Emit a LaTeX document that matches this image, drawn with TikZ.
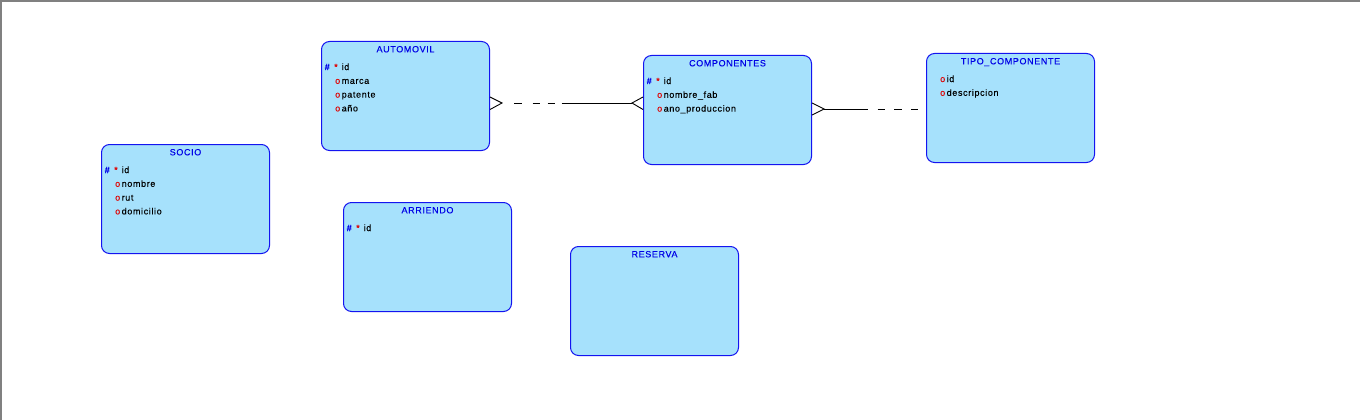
\documentclass[tikz,border=0pt]{standalone}
\usepackage{fontspec}
\setmainfont{Liberation Sans}
\usetikzlibrary{calc}
\definecolor{entfill}{HTML}{A6E1FC}
\definecolor{entdraw}{HTML}{1414F0}
\definecolor{titleblue}{HTML}{0000E6}
\definecolor{attred}{HTML}{E00000}
\definecolor{framegray}{HTML}{808080}
\newcommand\ERfont{\fontsize{9}{10}\selectfont\addfontfeature{LetterSpace=7,FakeBold=0.15}}
\newcommand\ERpk[3]{%
  \node[epk]   at ($(#1.north west)+(3.5,{29+13.8*#2})$) {\#};
  \node[estar] at ($(#1.north west)+(13,{29+13.8*#2})$) {*};
  \node[eattr] at ($(#1.north west)+(20.5,{29+13.8*#2})$) {#3};}
\newcommand\ERatt[3]{%
  \node[eopt]  at ($(#1.north west)+(14,{29+13.8*#2})$) {o};
  \node[eattr] at ($(#1.north west)+(20.5,{29+13.8*#2})$) {#3};}
\newcommand\ERtitle[2]{%
  \node[etitle] at ($(#1.north)+(0,11.3)$) {#2};}
\begin{document}
\begin{tikzpicture}[x=1pt,y=-1pt,
  entity/.style={draw=entdraw, fill=entfill, line width=1pt, rounded corners=8pt,
    anchor=north west, minimum width=168pt, minimum height=109pt, inner sep=0pt},
  etitle/.style={anchor=base, inner sep=0pt, text=titleblue, font=\ERfont},
  eattr/.style={anchor=base west, inner sep=0pt, text=black, font=\ERfont},
  epk/.style={anchor=base west, inner sep=0pt, text=titleblue, font=\ERfont\bfseries},
  estar/.style={anchor=base west, inner sep=0pt, text=attred, font=\ERfont},
  eopt/.style={anchor=base west, inner sep=0pt, text=attred, font=\ERfont},
  rel/.style={draw=black, line width=0.9pt},
  frameline/.style={draw=framegray, line width=1.5pt}]
\useasboundingbox (0,0) rectangle (1360,420);
\fill[white] (0,0) rectangle (1360,420);
\coordinate (fTL) at (1,1);
\coordinate (fTR) at (1360,1);
\coordinate (fBL) at (1,420);
\draw[frameline] (fBL) -- (fTL) -- (fTR);

% entities
\node[entity] (auto) at (321,41) {};
\ERtitle{auto}{AUTOMOVIL}
\ERpk{auto}{0}{id}
\ERatt{auto}{1}{marca}
\ERatt{auto}{2}{patente}
\ERatt{auto}{3}{año}

\node[entity] (comp) at (643,55) {};
\ERtitle{comp}{COMPONENTES}
\ERpk{comp}{0}{id}
\ERatt{comp}{1}{nombre\_fab}
\ERatt{comp}{2}{ano\_produccion}

\node[entity] (tipo) at (926,53) {};
\ERtitle{tipo}{TIPO\_COMPONENTE}
\ERatt{tipo}{0}{id}
\ERatt{tipo}{1}{descripcion}

\node[entity] (socio) at (101,144) {};
\ERtitle{socio}{SOCIO}
\ERpk{socio}{0}{id}
\ERatt{socio}{1}{nombre}
\ERatt{socio}{2}{rut}
\ERatt{socio}{3}{domicilio}

\node[entity] (arr) at (343,202) {};
\ERtitle{arr}{ARRIENDO}
\ERpk{arr}{0}{id}

\node[entity] (res) at (570,246) {};
\ERtitle{res}{RESERVA}

% AUTOMOVIL >- - - ---< COMPONENTES
\coordinate (a1) at ($(auto.east |- 0,103)+(12,0)$);
\coordinate (a2) at ($(comp.west |- 0,103)+(-11,0)$);
\draw[rel] (auto.east |- 0,97) -- (a1) -- (auto.east |- 0,109.5);
\draw[rel] (comp.west |- 0,97) -- (a2) -- (comp.west |- 0,109.5);
\draw[rel, dash pattern=on 0pt off 12pt on 7.5pt off 11pt on 7pt off 8pt on 7pt off 7pt on 200pt] (a1) -- (a2);

% COMPONENTES >---- - - - TIPO_COMPONENTE
\coordinate (b1) at ($(comp.east |- 0,109)+(12,0)$);
\coordinate (b2) at (tipo.west |- 0,109);
\draw[rel] (comp.east |- 0,103) -- (b1) -- (comp.east |- 0,115);
\draw[rel, dash pattern=on 44pt off 9.7pt on 7.3pt off 9pt on 8pt off 9pt on 7pt off 50pt] (b1) -- (b2);
\end{tikzpicture}
\end{document}
